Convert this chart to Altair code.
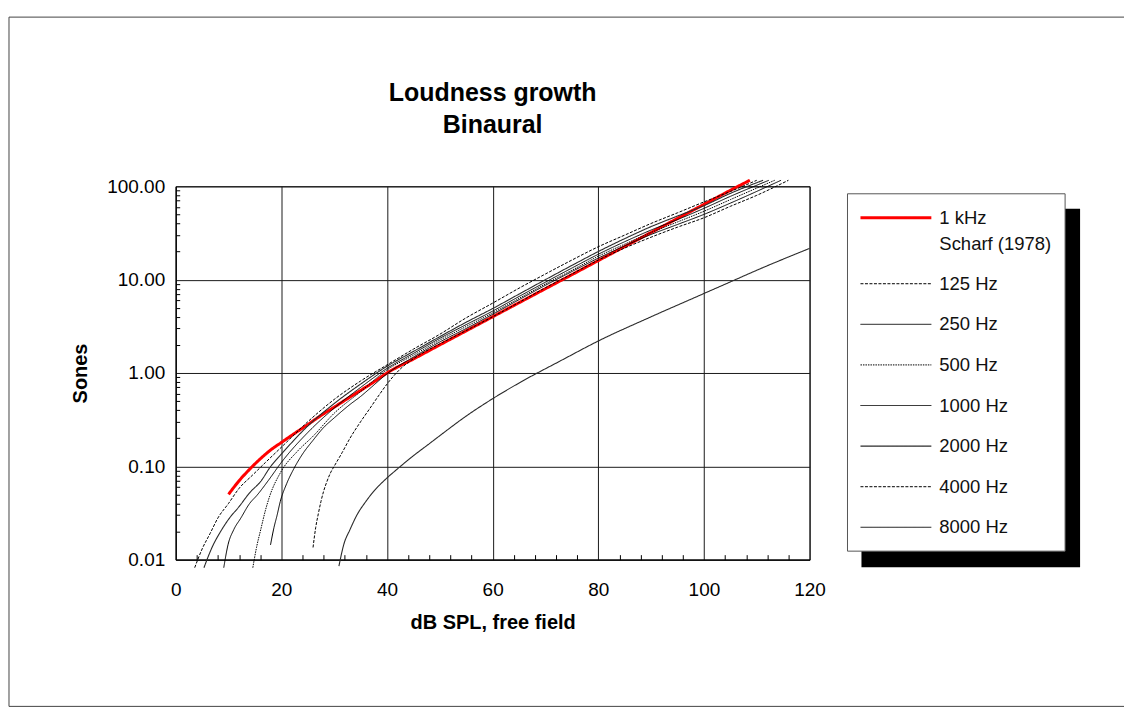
import altair as alt
import pandas as pd

# ---------------- data ----------------
series_names = ["1 kHz Scharf (1978)", "125 Hz", "250 Hz", "500 Hz",
                "1000 Hz", "2000 Hz", "4000 Hz", "8000 Hz"]

scharf_db = [10, 12, 14, 16, 18, 20, 22.5, 25, 27.5, 30, 32.5, 35, 37.5, 40,
             45, 50, 55, 60, 65, 70, 75, 80, 85, 90, 95, 100, 105, 108.7]
scharf_sones = [0.05, 0.07, 0.093, 0.12, 0.15, 0.18, 0.225, 0.28, 0.35, 0.43,
                0.53, 0.65, 0.8, 1.0, 1.41, 2.0, 2.83, 4.0, 5.66, 8.0, 11.3, 16,
                22.6, 32, 45.3, 64, 90.5, 116]

hz125_db = [26.0, 26.5, 27, 27.5, 28, 28.6, 29.3, 30, 31.5, 33, 35, 36.8, 38.5,
            40, 42.5, 45, 50, 55, 60, 65, 70, 75, 80, 85, 90, 95, 100, 105, 110, 116.0]
hz125_sones = [0.0135, 0.022, 0.031, 0.042, 0.054, 0.068, 0.085, 0.1, 0.14, 0.2,
               0.3, 0.42, 0.58, 0.76, 1.1, 1.42, 2.05, 2.85, 4.0, 5.7, 8.2, 11.5,
               16.2, 21.8, 28.5, 36.5, 46, 61, 80, 116]

hz250_db = [17.95, 18.6, 19.2, 19.8, 21, 22.4, 24, 26, 28, 30, 33, 35, 37, 40,
            45, 50, 55, 60, 65, 70, 75, 80, 85, 90, 95, 100, 105, 114.6]
hz250_sones = [0.0144, 0.022, 0.03, 0.042, 0.065, 0.095, 0.135, 0.19, 0.26, 0.33,
               0.46, 0.56, 0.7, 0.98, 1.48, 2.15, 3.0, 4.25, 6.1, 8.7, 12.2, 17,
               23, 30.5, 39, 50, 66, 116]

hz500_db = [14.6, 15.3, 16.1, 17, 17.8, 19.8, 23, 26, 30, 35, 40, 45, 50, 55,
            60, 65, 70, 75, 80, 85, 90, 95, 100, 105, 113.4]
hz500_sones = [0.0082, 0.0135, 0.021, 0.034, 0.048, 0.085, 0.144, 0.21, 0.37,
               0.63, 1.08, 1.55, 2.25, 3.15, 4.4, 6.3, 9.0, 12.6, 17.8, 24, 32,
               41.5, 54, 72, 116]

hz1000_db = [9.1, 9.9, 11, 12.3, 14, 15.4, 17.5, 20, 25, 30, 35, 40, 45, 50, 55,
             60, 65, 70, 75, 80, 85, 90, 95, 100, 105, 112.3]
hz1000_sones = [0.0082, 0.0144, 0.021, 0.0277, 0.04, 0.049, 0.07, 0.11, 0.23,
                0.42, 0.7, 1.12, 1.62, 2.35, 3.3, 4.6, 6.6, 9.4, 13.3, 18.7, 25.5,
                34, 44, 58, 78, 116]

hz2000_db = [5.35, 7, 8.5, 10, 12, 14, 16.1, 18, 20, 25, 30, 35, 40, 45, 50, 55,
             60, 65, 70, 75, 80, 85, 90, 95, 100, 105, 111.2]
hz2000_sones = [0.0082, 0.014, 0.02, 0.027, 0.037, 0.052, 0.069, 0.1, 0.135, 0.27,
                0.47, 0.76, 1.18, 1.7, 2.45, 3.5, 4.9, 7.0, 10.0, 14.2, 20, 27.5,
                37, 48, 62, 84, 116]

hz4000_db = [3.6, 5, 6.5, 8, 10, 12, 14.5, 17, 20, 25, 30, 35, 40, 45, 50, 55,
             60, 65, 70, 75, 80, 85, 90, 95, 100, 105, 110]
hz4000_sones = [0.0082, 0.013, 0.019, 0.028, 0.04, 0.058, 0.08, 0.11, 0.16, 0.3,
                0.52, 0.82, 1.22, 1.8, 2.6, 3.9, 5.6, 8.1, 11.5, 16.2, 22.5, 30,
                40, 52, 68, 88, 116]

hz8000_db = [30.9, 31.8, 33, 34.3, 36, 37.5, 40, 42, 44.4, 48.2, 51, 54.5, 60,
             65.5, 72.75, 80, 90, 100, 105.8, 110, 120]
hz8000_sones = [0.0085, 0.0144, 0.021, 0.03, 0.042, 0.054, 0.075, 0.094, 0.122,
                0.178, 0.235, 0.33, 0.53, 0.81, 1.34, 2.2, 4.0, 7.1, 9.9, 12.6, 21.6]

legend_labels = ["1 kHz", "125 Hz", "250 Hz", "500 Hz", "1000 Hz", "2000 Hz",
                 "4000 Hz", "8000 Hz"]
legend_sub = "Scharf (1978)"
title_lines = ["Loudness growth", "Binaural"]

x_ticks = [0, 20, 40, 60, 80, 100, 120]
y_ticks = [0.01, 0.1, 1, 10, 100]

# ---------------- styles ----------------
colors = ["#ff0000", "#000000", "#000000", "#000000", "#000000", "#2a2a2a",
          "#000000", "#2a2a2a"]
dashes = [[1, 0], [3, 1.5], [1, 0], [1.5, 1], [1, 0], [1, 0], [3, 1.5], [1, 0]]
widths = [3, 1, 1, 1, 1, 1.1, 1, 1.1]
FONT = "Liberation Sans"
width_of = dict(zip(series_names, widths))

# ---------------- tables ----------------
curves = [(scharf_db, scharf_sones), (hz125_db, hz125_sones), (hz250_db, hz250_sones),
          (hz500_db, hz500_sones), (hz1000_db, hz1000_sones), (hz2000_db, hz2000_sones),
          (hz4000_db, hz4000_sones), (hz8000_db, hz8000_sones)]
rows = []
for name, (xs, ys) in zip(series_names, curves):
    for i, (a, b) in enumerate(zip(xs, ys)):
        rows.append({"series": name, "db": a, "sones": b, "idx": i, "w": width_of[name]})
df = pd.DataFrame(rows)

W, H = 635, 374
x_scale = alt.Scale(domain=[0, 120], nice=False, zero=False)
y_scale = alt.Scale(type="log", domain=[0.01, 100], nice=False)
color_enc = alt.Color("series:N", scale=alt.Scale(domain=series_names, range=colors), legend=None)
dash_enc = alt.StrokeDash("series:N", scale=alt.Scale(domain=series_names, range=dashes), legend=None)
width_enc = alt.StrokeWidth("w:Q", scale=None, legend=None)

red_line = alt.Chart(df).transform_filter(
    alt.datum.series == series_names[0]
).mark_line(interpolate="monotone", clip=False).encode(
    x=alt.X("db:Q", scale=x_scale, axis=None),
    y=alt.Y("sones:Q", scale=y_scale, axis=None),
    detail="series:N", color=color_enc, strokeDash=dash_enc, strokeWidth=width_enc,
    order="idx:Q",
)

black_lines = alt.Chart(df).transform_filter(
    alt.datum.series != series_names[0]
).mark_line(interpolate="monotone", clip=False).encode(
    x=alt.X("db:Q", scale=x_scale, axis=alt.Axis(
        values=x_ticks, grid=True, gridColor="#1a1a1a", gridWidth=1, gridOpacity=1,
        ticks=False, tickSize=0, domain=True, domainColor="#000",
        labelFont=FONT, labelFontSize=19, labelColor="#000", labelPadding=21,
        labelFlush=False, labelOverlap=False,
        title="dB SPL, free field", titleFont=FONT, titleFontSize=20,
        titleFontWeight="bold", titleColor="#000", titlePadding=13)),
    y=alt.Y("sones:Q", scale=y_scale, axis=alt.Axis(
        values=y_ticks, format=".2f", grid=True, gridColor="#1a1a1a", gridWidth=1,
        gridOpacity=1, ticks=False, tickSize=0, domain=True, domainColor="#000",
        labelFont=FONT, labelFontSize=19, labelColor="#000", labelPadding=11,
        labelFlush=False, labelOverlap=False,
        title="Sones", titleFont=FONT, titleFontSize=20, titleFontWeight="bold",
        titleColor="#000", titlePadding=16)),
    detail="series:N", color=color_enc, strokeDash=dash_enc, strokeWidth=width_enc,
    order="idx:Q",
)

minor_x = [v for v in range(4, 120, 4) if v % 20 != 0]
minor_y = [k * d for d in [0.01, 0.1, 1, 10] for k in range(2, 10)]
minor_axes = alt.Chart(df).mark_point(opacity=0, size=1).encode(
    x=alt.X("db:Q", scale=x_scale, axis=alt.Axis(
        orient="top", offset=-H, values=minor_x, labels=False, domain=False,
        grid=False, ticks=True, tickSize=5, tickColor="#000", title=None)),
    y=alt.Y("sones:Q", scale=y_scale, axis=alt.Axis(
        orient="right", offset=-W, values=minor_y, labels=False, domain=False,
        grid=False, ticks=True, tickSize=4, tickColor="#000", title=None)),
)

one = pd.DataFrame({"k": [0]})
FB = 521
FR = 950
frame_top = alt.Chart(one).mark_rule(color="#444", strokeWidth=1).encode(
    x=alt.value(-167), x2=alt.value(FR), y=alt.value(-169.5))
frame_left = alt.Chart(one).mark_rule(color="#444", strokeWidth=1).encode(
    x=alt.value(-167), y=alt.value(-169.5), y2=alt.value(FB))
frame_bottom = alt.Chart(one).mark_rule(color="#444", strokeWidth=1).encode(
    x=alt.value(-167), x2=alt.value(FR), y=alt.value(FB))

title1 = alt.Chart(pd.DataFrame({"t": [title_lines[0]]})).mark_text(
    font=FONT, fontSize=25, fontWeight="bold", color="#000", align="center",
    baseline="alphabetic").encode(x=alt.value(W / 2), y=alt.value(-85), text="t:N")
title2 = alt.Chart(pd.DataFrame({"t": [title_lines[1]]})).mark_text(
    font=FONT, fontSize=25, fontWeight="bold", color="#000", align="center",
    baseline="alphabetic").encode(x=alt.value(W / 2), y=alt.value(-53), text="t:N")

main = alt.layer(
    frame_top, frame_left, frame_bottom, title1, title2, red_line, black_lines, minor_axes
).resolve_axis(x="independent", y="independent").properties(
    width=W, height=H,
    view=alt.ViewBackground(stroke="#000", strokeWidth=1),
)

# ---------------- legend panel ----------------
STEP = 40.67
first_y = 31.5
slots = [0.0] + [1.625 + i for i in range(len(series_names) - 1)]
leg_df = pd.DataFrame({"series": series_names, "label": legend_labels, "slot": slots,
                       "w": widths})
sub_df = pd.DataFrame({"label": [legend_sub], "slot": [26.0 / STEP]})
leg_y = alt.Scale(domain=[-first_y / STEP, (H - first_y) / STEP], reverse=True,
                  nice=False, zero=False)

shadow = alt.Chart(one).mark_rect(color="#000").encode(
    x=alt.value(14), x2=alt.value(233), y=alt.value(22.5), y2=alt.value(381.5))
box = alt.Chart(one).mark_rect(fill="#fff", stroke="#555", strokeWidth=1).encode(
    x=alt.value(0), x2=alt.value(218), y=alt.value(7.5), y2=alt.value(365.5))
leg_lines = alt.Chart(leg_df).mark_rule().encode(
    x=alt.value(13), x2=alt.value(84),
    y=alt.Y("slot:Q", scale=leg_y, axis=None),
    color=color_enc, strokeDash=dash_enc, strokeWidth=width_enc,
)
leg_text = alt.Chart(leg_df).mark_text(
    align="left", baseline="middle", font=FONT, fontSize=18.5, color="#111"
).encode(x=alt.value(92), y=alt.Y("slot:Q", scale=leg_y, axis=None), text="label:N")
leg_sub = alt.Chart(sub_df).mark_text(
    align="left", baseline="middle", font=FONT, fontSize=18.5, color="#111"
).encode(x=alt.value(92), y=alt.Y("slot:Q", scale=leg_y, axis=None), text="label:N")

legend_panel = alt.layer(shadow, box, leg_lines, leg_text, leg_sub).properties(
    width=235, height=H, view=alt.ViewBackground(strokeOpacity=0))

chart = alt.hconcat(main, legend_panel, spacing=38, bounds="flush").properties(
    padding={"left": 0, "top": 7, "right": 0, "bottom": 0},
    background="#ffffff",
)

chart.save("out.html", embed_options={"renderer": "svg", "actions": False})
